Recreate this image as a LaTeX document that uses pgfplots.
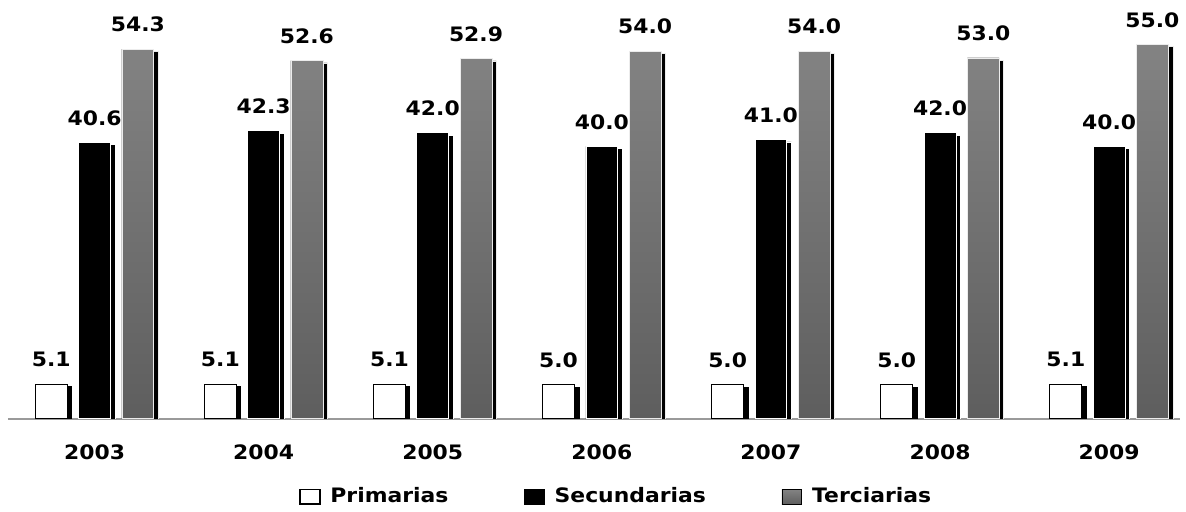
\documentclass[border=0pt]{standalone}
\usepackage{pgfplots}
\pgfplotsset{compat=1.18}
\usetikzlibrary{shadows}
\usepackage{fontspec}
\newfontfamily\cf{DejaVu Sans}[FakeStretch=1.1]
\newcommand\lbl{\cf\bfseries\fontsize{10}{12}\selectfont}
\definecolor{barTop}{HTML}{838383}
\definecolor{barBot}{HTML}{5E5E5E}
\definecolor{axisgray}{HTML}{9A9A9A}

\begin{document}
\begin{tikzpicture}
  \begin{axis}[
      scale only axis,
      width             = 589pt,
      height            = 210.5pt,
      xmin              = -0.512,
      xmax              = 6.418,
      ymin              = 0,
      ymax              = 61.5,
      ybar,
      bar width         = 16pt,
      axis x line*      = bottom,
      axis y line       = none,
      x axis line style = {axisgray, line width=0.8pt, -},
      xtick             = {0,1,2,3,4,5,6},
      xticklabels       = {2003,2004,2005,2006,2007,2008,2009},
      major tick length = 0pt,
      xticklabel style  = {font=\lbl, yshift=-9.5pt},
      nodes near coords = {\pgfmathprintnumber[fixed,fixed zerofill,precision=1]{\pgfplotspointmeta}},
      every node near coord/.append style = {font=\lbl, yshift=5pt, black},
      /pgf/number format/assume math mode = true,
      legend columns    = 3,
      legend style      = {draw=none, fill=none, font=\lbl, anchor=center,
                           at={(0.52,-0.186)}, inner sep=1pt,
                           /tikz/every even column/.append style={column sep=36pt}},
      bar shadow/.style = {general shadow={fill=black, shadow xshift=2.3pt, shadow yshift=-1.2pt}},
      clip              = true
    ]

    % Primarias
    \addplot [forget plot, bar shift=-21.75pt,
      fill=white, draw=black, line width=0.5pt, bar shadow
    ] coordinates {(0,5.1)(1,5.1)(2,5.1)(3,5.0)(4,5.0)(5,5.0)(6,5.1)};

    % Secundarias
    \addplot [forget plot, bar shift=0pt,
      fill=black, draw=white, line width=0.4pt, bar shadow
    ] coordinates {(0,40.6)(1,42.3)(2,42.0)(3,40.0)(4,41.0)(5,42.0)(6,40.0)};

    % Terciarias
    \addplot [forget plot, bar shift=21.75pt,
      fill=barBot, draw=white!85!gray, line width=0.3pt, bar shadow,
      postaction={top color=barTop, bottom color=barBot}
    ] coordinates {(0,54.3)(1,52.6)(2,52.9)(3,54.0)(4,54.0)(5,53.0)(6,55.0)};

    \addlegendimage{legend image code/.code={\draw[fill=white, draw=black, line width=0.7pt] (0pt,-3.75pt) rectangle (10pt,3.75pt); \path (13pt,0pt);}}
    \addlegendentry{Primarias}
    \addlegendimage{legend image code/.code={\fill[black] (0pt,-3.75pt) rectangle (10pt,3.75pt); \path (13pt,0pt);}}
    \addlegendentry{Secundarias}
    \addlegendimage{legend image code/.code={\fill[top color=barTop, bottom color=barBot] (0pt,-3.75pt) rectangle (10pt,3.75pt); \path (13pt,0pt);}}
    \addlegendentry{Terciarias}
  \end{axis}
  \path ([xshift=-4pt]current axis.south west) (current axis.north east);
\end{tikzpicture}
\end{document}
